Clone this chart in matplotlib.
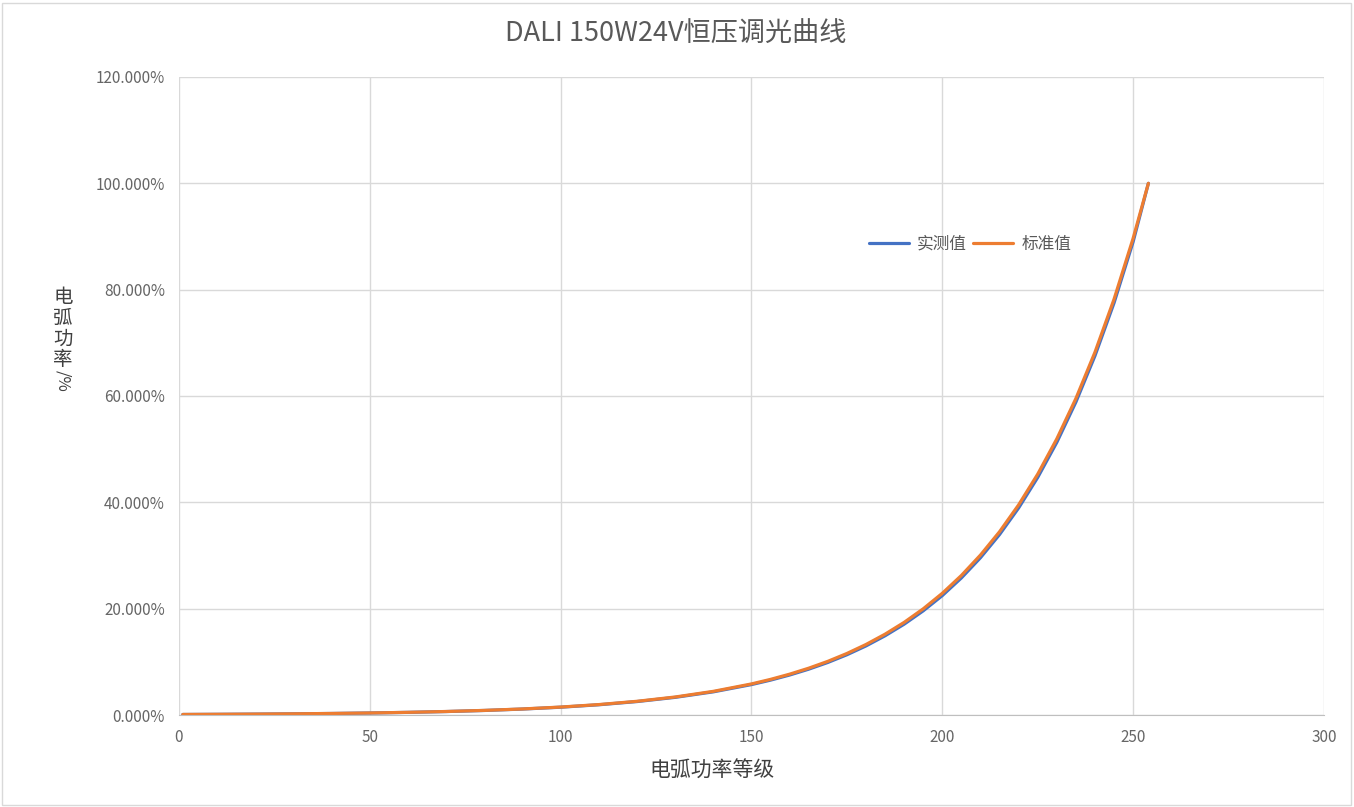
import matplotlib
matplotlib.use("Agg")
import matplotlib.pyplot as plt
from matplotlib.patches import Rectangle
from matplotlib.ticker import FuncFormatter

plt.rcParams["font.family"] = ["Noto Sans CJK SC", "DejaVu Sans"]
plt.rcParams["axes.unicode_minus"] = False

# 电弧功率等级 (arc power level)
levels = [1, 10, 20, 30, 40, 50, 60, 70, 80, 90, 100, 110, 120, 130, 140,
          150, 155, 160, 165, 170, 175, 180, 185, 190, 195, 200, 205, 210,
          215, 220, 225, 230, 235, 240, 245, 250, 254]

# 标准值 (standard), percent
standard = [0.100, 0.128, 0.168, 0.221, 0.290, 0.381, 0.501, 0.658, 0.865,
            1.136, 1.493, 1.961, 2.577, 3.386, 4.449, 5.846, 6.701, 7.681,
            8.805, 10.09, 11.57, 13.26, 15.20, 17.42, 19.97, 22.89, 26.24,
            30.08, 34.47, 39.52, 45.30, 51.93, 59.52, 68.23, 78.20, 89.65,
            100.0]

# 实测值 (measured), percent
measured = [0.100, 0.127, 0.167, 0.219, 0.287, 0.377, 0.495, 0.649, 0.852,
            1.118, 1.467, 1.925, 2.527, 3.318, 4.355, 5.720, 6.560, 7.520,
            8.620, 9.880, 11.33, 12.99, 14.90, 17.08, 19.59, 22.46, 25.78,
            29.58, 33.94, 38.94, 44.68, 51.27, 58.85, 67.55, 77.50, 89.00,
            100.0]

fig = plt.figure(figsize=(13.54, 8.07), dpi=100)
ax = fig.add_axes([0.1322, 0.114, 0.8456, 0.7906])

ax.plot(levels, measured, color="#4472C4", linewidth=2.3, label="实测值",
        solid_capstyle="round")
ax.plot(levels, standard, color="#ED7D31", linewidth=2.3, label="标准值",
        solid_capstyle="round")

ax.set_xlim(0, 300)
ax.set_ylim(0, 120)
ax.set_xticks(range(0, 301, 50))
ax.set_yticks(range(0, 121, 20))
ax.yaxis.set_major_formatter(FuncFormatter(lambda v, p: f"{v:.3f}%"))
ax.grid(True, color="#D9D9D9", linewidth=1.0)
ax.set_axisbelow(True)
for side in ["top", "right", "left"]:
    ax.spines[side].set_visible(False)
ax.spines["bottom"].set_color("#BFBFBF")
ax.tick_params(length=0, labelsize=11, colors="#666666", pad=10)

fig.text(0.4993, 0.957, "DALI 150W24V恒压调光曲线", ha="center", va="center",
         fontsize=19.5, color="#595959")
fig.text(0.526, 0.045, "电弧功率等级", ha="center", va="center",
         fontsize=15, color="#404040")

# stacked y label
ychars = ["电", "弧", "功", "率"]
for i, ch in enumerate(ychars):
    fig.text(0.0465, 1 - (298 + i * 20.5) / 807, ch, ha="center", va="center",
             fontsize=14, color="#404040")
fig.text(0.0465, 1 - 381 / 807, "/%", ha="center", va="center", rotation=-90,
         fontsize=12, color="#404040")

ax.legend(loc="center", bbox_to_anchor=(0.691, 0.738), ncol=2, frameon=False,
          fontsize=12, labelcolor="#595959", handlelength=2.4,
          handletextpad=0.5, columnspacing=0.4)

fig.patches.append(Rectangle((0.0015, 0.0025), 0.996, 0.994,
                             transform=fig.transFigure, fill=False,
                             edgecolor="#D9D9D9", linewidth=1))

fig.savefig("out.png", dpi=100, facecolor="white")
